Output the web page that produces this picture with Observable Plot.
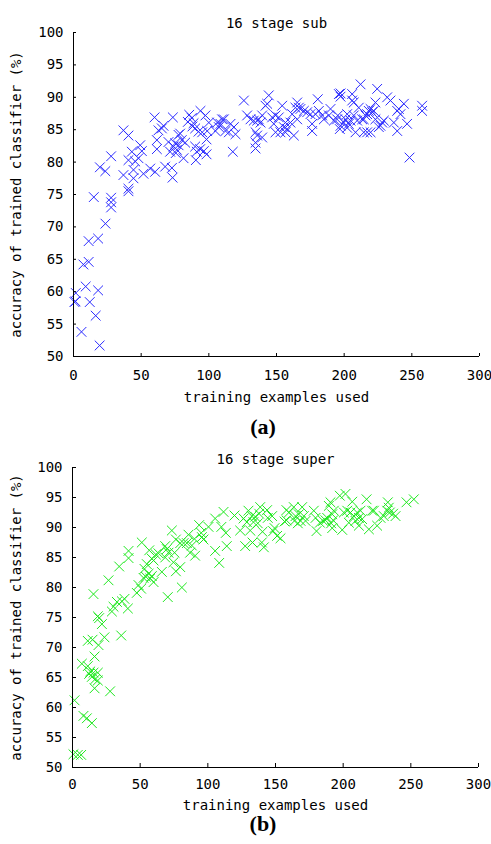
<!DOCTYPE html>
<html>
<head>
<meta charset="utf-8">
<script src="https://cdn.jsdelivr.net/npm/d3@7"></script>
<script src="https://cdn.jsdelivr.net/npm/@observablehq/plot@0.6"></script>
<style>
  html, body { margin: 0; padding: 0; background: #fff; }
  #wrap { position: relative; width: 491px; height: 844px; overflow: hidden; }
  .panel { position: absolute; left: 0; }
  .cap { position: absolute; font-family: "Liberation Serif", "Times New Roman", serif; font-weight: bold; font-size: 22px; line-height: 26px; height: 26px; transform: translateX(-50%); color: #000; }
</style>
</head>
<body>
<div id="wrap"></div>
<script>
// ---- Data ----
const titleA = "16 stage sub";
const titleB = "16 stage super";
const xLabel = "training examples used";
const yLabel = "accuracy of trained classifier (%)";
const captionA = "(a)";
const captionB = "(b)";
const xTicks = [0, 50, 100, 150, 200, 250, 300];
const yTicks = [50, 55, 60, 65, 70, 75, 80, 85, 90, 95, 100];

// panel (a): [training examples, accuracy %]
const subPoints = [
  [0.7,58.4],[1.5,58.5],[1.7,59.8],[5.9,53.8],[7.3,64.2],[9,60.8],[11.2,64.6],[11.2,67.8],[12,58.4],
  [15,74.6],[16.4,56.3],[18.2,60.2],[18.2,68.2],[19.3,51.7],[19.5,79.2],[23.5,78.6],[23.6,70.5],
  [27.8,74.5],[27.8,73.8],[27.8,73.0],[27.8,80.9],
  [36.9,78.0],[44.3,78.8],[44.3,77.5],[40.6,75.9],[40.6,75.5],[36.9,84.9],[40.6,84.1],[43.1,81.6],
  [40.6,80.3],[45.6,80.1],[48.0,80.6],[49.3,82.6],[50.5,81.7],[51.7,78.2],[56.7,79.0],[60.3,78.5],
  [59.9,86.9],[61.6,83.4],[61.6,82.0],[62.8,84.9],[65.3,85.2],[66.5,85.6],[67.7,79.3],[72.7,79.1],
  [73.2,77.6],[73.4,86.9],[70.2,83.1],[71.4,81.6],[73.9,82.4],[75.1,82.9],[76.4,81.9],[77.6,82.6],
  [78.8,84.4],[80.0,83.4],[81.3,80.6],[82.5,83.0],[85.5,87.3],[87.4,86.8],[88.7,86.0],[87.9,85.5],
  [89.9,85.2],[92.4,84.7],[89.9,82.4],[91.1,81.6],[90.4,80.3],[93.6,82.0],[84.5,86.2],[77.6,84.2],[75.6,81.4],
  [93.8,87.9],[97.5,87.2],[100.0,86.1],[98.8,84.8],[95.1,84.6],[98.3,83.5],[96.3,81.7],[98.3,81.2],
  [106.2,86.1],[107.4,85.4],[104.9,84.8],[109.8,86.6],[111.1,86.6],[108.6,85.9],[112.3,84.8],[116.0,85.9],
  [118.5,85.4],[119.7,84.3],[114.8,84.6],[117.7,81.6],[125.9,89.5],[128.3,87.2],[130.8,86.6],[133.2,86.4],
  [135.7,86.4],[136.9,86.6],[139.4,87.2],[138.2,86.1],[134.5,84.6],[135.7,84.1],[134.5,83.0],[134.5,82.1],
  [139.4,83.8],[141.9,88.7],[144.3,90.3],[143.1,89.0],[146.8,86.9],[149.3,87.2],[151.7,86.9],[154.2,88.7],
  [156.6,86.1],[155.4,85.4],[157.9,85.1],[148.0,85.9],[149.3,84.6],[152.9,84.6],[156.6,84.6],[162.8,84.1],
  [160.3,86.1],[161.6,87.4],[164.0,88.4],[165.3,89.2],[166.5,88.4],[167.7,88.2],[165.3,86.6],[170.2,87.9],
  [172.7,87.7],[176.3,85.9],[176.3,84.8],[175.1,87.4],[178.8,87.4],[181.3,87.9],[180.5,89.7],[183.7,87.2],
  [185.0,86.6],[189.9,88.2],[188.7,87.2],[192.4,86.4],[194.8,86.6],[196.1,90.5],[197.3,90.6],[197.3,90.1],
  [195.3,87.2],[196.8,85.1],[197.3,85.6],[199.7,86.1],[201.0,86.6],[202.2,87.4],[202.2,85.3],[203.4,85.9],
  [204.7,86.4],[205.9,90.5],[205.9,89.5],[207.1,89.2],[207.1,87.2],[208.4,84.6],[209.6,86.4],[210.8,88.4],
  [212.1,92.0],[213.3,86.6],[214.5,86.6],[215.8,87.2],[217.0,87.4],[218.2,87.9],[219.5,88.2],[220.7,87.7],
  [221.9,87.9],[223.1,89.2],[224.4,91.3],[223.1,86.6],[214.5,84.6],[217.0,84.6],[219.5,84.6],[226.8,85.6],
  [228.1,86.1],[229.3,86.4],[225.6,85.4],[231.8,90.0],[234.2,89.5],[236.7,86.1],[239.2,87.9],[240.4,88.2],
  [241.6,87.4],[239.2,84.8],[244.1,89.0],[246.5,85.9],[248.3,80.7],[257.6,88.7],[257.6,87.9]
];

// panel (b): [training examples, accuracy %]
const superPoints = [
  [0.7,52.2],[3.9,52.1],[6.4,52.1],[8.1,58.6],[10.6,58.2],[14.3,57.4],[1.5,61.2],
  [6.9,67.3],[11.3,66.9],[13.1,66.0],[12.3,65.6],[15.5,65.8],[18.7,65.8],[14.3,65.1],[16.7,64.7],
  [18.7,64.5],[16.3,63.2],[27.8,62.7],[16.3,68.5],[11.3,71.1],[14.8,71.3],[19.2,70.4],[23.6,71.7],
  [36.0,72.0],[18.7,75.2],[19.7,74.9],[21.7,73.9],
  [29.1,76.0],[30.3,76.8],[32.8,77.6],[36.5,77.7],[38.4,78.1],[40.9,76.5],[15.5,78.9],
  [26.6,81.2],[34.5,83.5],[41.4,86.1],[41.4,84.9],[47.5,79.1],[50.7,79.8],[48.8,80.4],
  [52.5,81.6],[54.2,81.8],[58.6,81.9],[57.4,81.5],[59.9,80.9],[56.2,82.3],[51.2,87.5],[53.2,83.1],
  [54.9,83.9],[56.7,86.2],[58.6,84.8],[59.9,84.5],[61.6,85.5],[63.5,85.7],[66.0,82.6],[68.5,86.9],
  [68.5,85.0],[69.7,86.4],[70.9,85.8],[73.4,89.5],[75.4,85.8],[74.6,84.2],[76.4,82.7],[79.6,83.4],
  [70.4,78.4],[76.4,88.0],[79.6,87.4],[82.1,87.4],[84.5,87.4],[80.8,80.0],[85.7,88.8],[86.9,85.8],
  [90.6,85.3],[90.1,88.1],[88.2,87.0],[93.6,90.4],[95.1,89.1],[96.8,88.0],[95.6,88.4],[100.5,90.1],
  [105.4,86.1],[105.4,91.5],[108.4,84.1],[111.6,92.6],[110.0,90.1],[113.3,89.1],[114.0,86.9],[119.7,92.0],
  [123.9,89.5],[127.6,86.9],[131.3,89.5],[133.0,87.5],[130.0,92.8],[132.5,91.9],[133.7,90.9],[135.0,91.8],
  [136.9,90.7],[137.9,92.3],[138.7,93.4],[140.4,89.3],[139.9,87.5],[128.8,90.9],[126.4,91.5],
  [143.8,92.9],[144.3,91.6],[147.5,91.9],[149.3,89.9],[151.2,88.6],[153.7,88.2],[148.3,89.4],[141.4,86.7],
  [156.7,91.0],[158.1,91.2],[159.9,92.5],[158.1,92.9],[163.5,93.4],[164.8,91.9],[164.0,91.1],[167.2,92.2],
  [168.5,91.1],[166.5,90.7],[169.7,93.4],[170.9,91.9],[172.2,91.1],
  [178.3,92.8],[179.6,91.6],[180.3,89.4],[182.8,90.8],[185.2,91.1],[186.9,91.2],[188.2,91.6],
  [189.4,93.6],[190.6,94.2],[191.9,92.2],[193.1,92.8],[191.9,89.9],[192.6,91.2],[191.1,90.7],
  [197.5,95.3],[201.7,95.6],[206.7,94.3],[199.3,89.6],[204.2,90.8],[200.5,92.5],[203.0,92.8],[205.4,92.5],
  [207.9,91.9],[210.3,92.5],[212.8,92.8],[211.6,91.6],[209.1,91.1],[211.6,90.3],[214.0,91.4],
  [217.3,94.7],[219.0,89.7],[221.4,92.8],[222.7,92.8],[225.1,90.3],[227.6,91.6],[230.0,91.9],[233.0,94.2],
  [233.7,93.3],[234.5,92.5],[236.9,92.3],[238.7,91.9],[232.5,92.8],[246.8,94.2],[252.2,94.7]
];

const font = "'DejaVu Sans Mono', monospace";

function panel({points, title, color, width, height, mt, mb, ml, mr, titleDy, xlabDy, ylabDx, xPad, tick}) {
  const innerH = height - mt - mb;
  const innerW = width - ml - mr;
  return Plot.plot({
    width, height,
    marginTop: mt, marginBottom: mb, marginLeft: ml, marginRight: mr,
    style: {fontFamily: font, fontSize: "14px", color: "#000", background: "#fff", overflow: "visible"},
    x: {domain: [0, 300]},
    y: {domain: [50, 100]},
    marks: [
      Plot.dot(points, {x: d => d[0], y: d => d[1], symbol: "times", r: 4.5, stroke: color, strokeWidth: 1}),
      Plot.ruleX(xTicks, {x: d => d, insetTop: innerH - tick, stroke: "#000"}),
      Plot.ruleY(yTicks, {y: d => d, insetRight: innerW - tick, stroke: "#000"}),
      Plot.ruleX([0], {stroke: "#000"}),
      Plot.ruleY([50], {stroke: "#000"}),
      Plot.axisX(xTicks, {tickSize: 0, tickPadding: xPad, label: null, fontSize: 14}),
      Plot.axisY(yTicks, {tickSize: 0, tickPadding: 10, label: null, fontSize: 14}),
      Plot.text([title], {text: d => d, frameAnchor: "top", dy: titleDy, fontSize: 14}),
      Plot.text([xLabel], {text: d => d, frameAnchor: "bottom", dy: xlabDy, fontSize: 14}),
      Plot.text([yLabel], {text: d => d, frameAnchor: "left", textAnchor: "middle", dx: ylabDx, rotate: -90, fontSize: 14})
    ]
  });
}

const wrap = document.getElementById("wrap");

const a = panel({points: subPoints, title: titleA, color: "#2b2bff", width: 491, height: 415,
  mt: 32, mb: 59, ml: 73, mr: 12, titleDy: -14.5, xlabDy: 45, ylabDx: -57, xPad: 14, tick: 3});
const da = document.createElement("div");
da.className = "panel"; da.style.top = "0px";
da.appendChild(a);
wrap.appendChild(da);

const ca = document.createElement("div");
ca.className = "cap"; ca.style.top = "414px"; ca.style.left = "263px";
ca.textContent = captionA;
wrap.appendChild(ca);

const b = panel({points: superPoints, title: titleB, color: "#1ee81e", width: 491, height: 378,
  mt: 27, mb: 51, ml: 72, mr: 13, titleDy: -13, xlabDy: 42, ylabDx: -56, xPad: 12, tick: 4});
const db = document.createElement("div");
db.className = "panel"; db.style.top = "440px";
db.appendChild(b);
wrap.appendChild(db);

const cb = document.createElement("div");
cb.className = "cap"; cb.style.top = "811px"; cb.style.left = "263px";
cb.textContent = captionB;
wrap.appendChild(cb);
</script>
</body>
</html>
